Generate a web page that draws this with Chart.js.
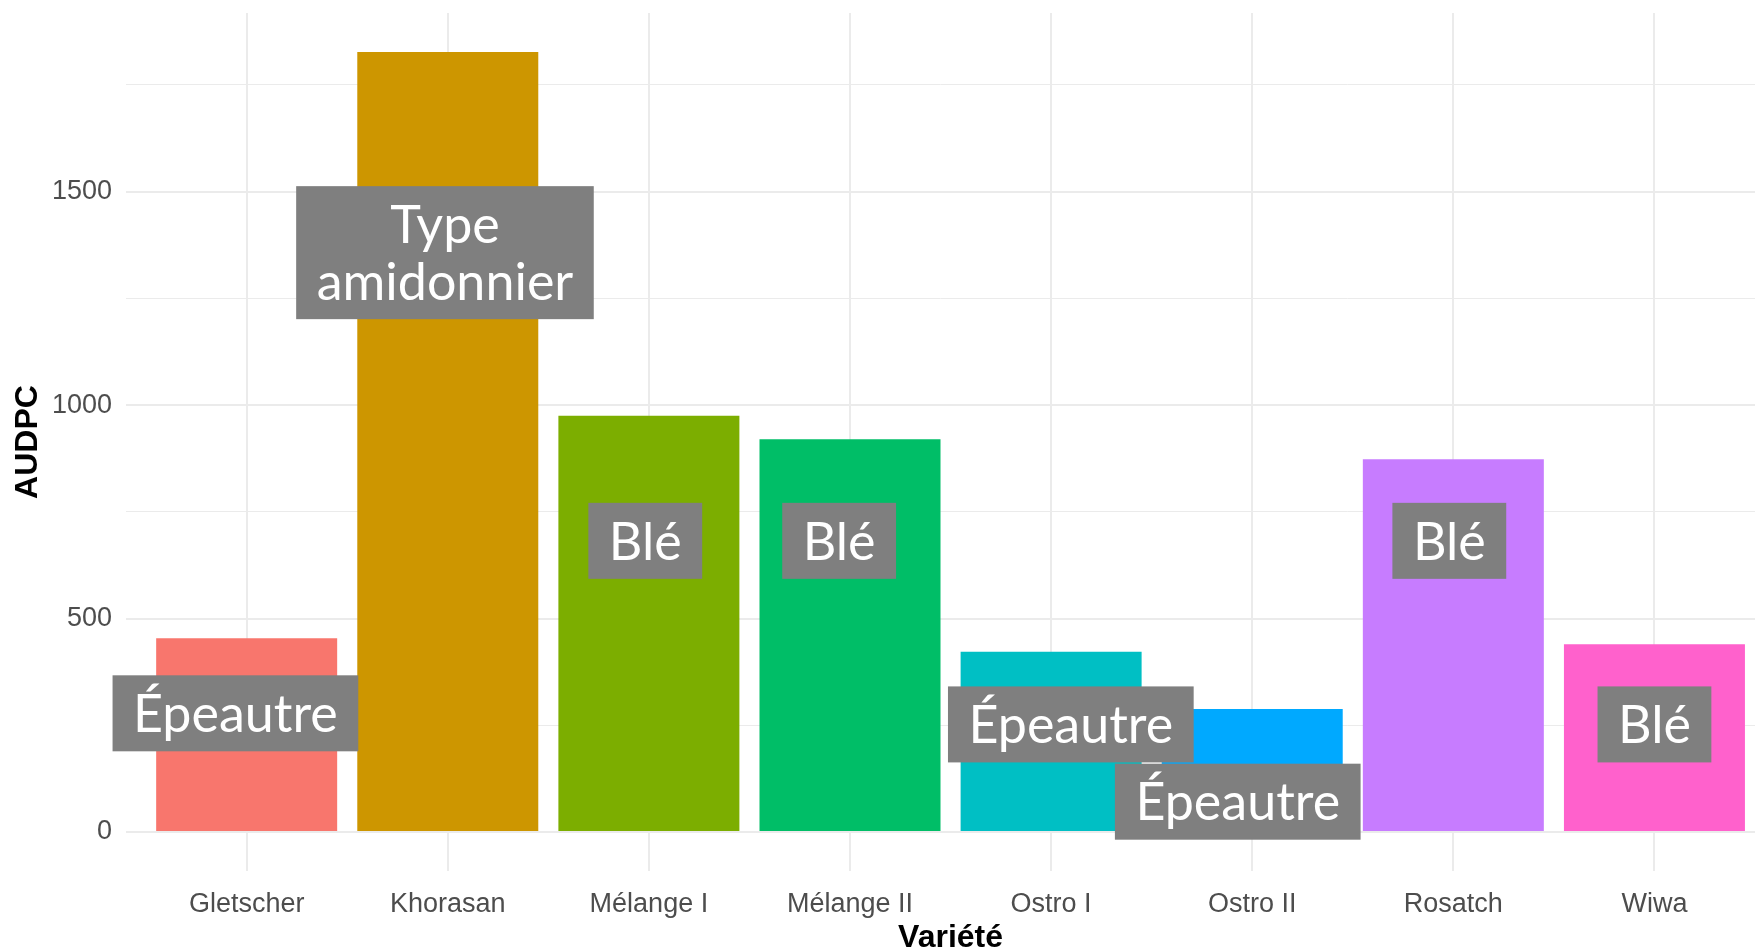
<!DOCTYPE html>
<html lang="fr">
<head>
<meta charset="utf-8">
<title>AUDPC par variété</title>
<script src="https://cdn.jsdelivr.net/npm/chart.js@4.4.1/dist/chart.umd.min.js"></script>
<style>
  html, body { margin: 0; padding: 0; background: #ffffff; overflow: hidden; }
  canvas { display: block; }
</style>
</head>
<body>
<canvas id="chartAudpc" width="1755" height="952"></canvas>
<script>
// Données
const varietes = ['Gletscher', 'Khorasan', 'Mélange I', 'Mélange II', 'Ostro I', 'Ostro II', 'Rosatch', 'Wiwa'];
const audpc = [454, 1827, 975, 920, 422, 288, 873, 440];
const couleurs = ['#F8766D', '#CD9600', '#7CAE00', '#00BE67', '#00BFC4', '#00A9FF', '#C77CFF', '#FF61CC'];
const yTicks = [0, 500, 1000, 1500];
const yMinorTicks = [250, 750, 1250, 1750];

// Étiquettes (position en unités de données)
const etiquettes = ['Épeautre', 'Type\namidonnier', 'Blé', 'Blé', 'Épeautre', 'Épeautre', 'Blé', 'Blé'];
const etiquetteX = [-0.056, 0.986, 1.982, 2.946, 4.098, 4.928, 5.98, 7.0];
const etiquetteY = [278, 1357, 682, 682, 252, 71, 682, 252];

// Expansion façon ggplot (5 %)
const yMax = Math.max(...audpc);
const yPad = yMax * 0.05;

const labelFont = '52px Lato';
const labelLine = 57;
const tickFont = { family: '"Liberation Sans", Arial, sans-serif', size: 27 };

// Plugin : étiquettes grises + titres d'axes
const etiquettesPlugin = {
    id: 'etiquettes',
    afterDatasetsDraw(chart) {
        const ctx = chart.ctx;
        const x = chart.scales.x;
        const y = chart.scales.y;
        ctx.save();
        ctx.font = labelFont;
        ctx.textAlign = 'center';
        ctx.textBaseline = 'middle';
        etiquettes.forEach(function (txt, i) {
            const lignes = txt.split('\n');
            const w = Math.max(...lignes.map(l => ctx.measureText(l).width)) + 41;
            const h = lignes.length * labelLine + 19;
            const cx = x.getPixelForValue(etiquetteX[i]);
            const cy = y.getPixelForValue(etiquetteY[i]);
            ctx.fillStyle = '#7F7F7F';
            ctx.fillRect(cx - w / 2, cy - h / 2, w, h);
            ctx.fillStyle = '#ffffff';
            lignes.forEach(function (l, k) {
                const ly = cy - (lignes.length - 1) * labelLine / 2 + k * labelLine;
                ctx.fillText(l, cx, ly + 2);
            });
        });

        // Titres des axes
        ctx.fillStyle = '#000000';
        ctx.font = 'bold 32px "Liberation Sans", Arial, sans-serif';
        ctx.textAlign = 'center';
        ctx.textBaseline = 'middle';
        ctx.fillText('Variété', x.getPixelForValue((varietes.length - 1) / 2), 938);
        ctx.translate(28, (chart.chartArea.top + chart.chartArea.bottom) / 2);
        ctx.rotate(-Math.PI / 2);
        ctx.fillText('AUDPC', 0, 0);
        ctx.restore();
    }
};

const ctx1 = document.getElementById('chartAudpc').getContext('2d');
const chartAudpc = new Chart(ctx1, {
    type: 'bar',
    data: {
        datasets: [{
            label: 'AUDPC',
            data: audpc.map((v, i) => ({ x: i, y: v })),
            backgroundColor: couleurs,
            borderWidth: 0,
            barPercentage: 0.9,
            categoryPercentage: 1.0
        }]
    },
    options: {
        responsive: false,
        animation: false,
        layout: { padding: { top: 13, right: 0, left: 0, bottom: 0 } },
        plugins: {
            legend: { display: false },
            tooltip: { enabled: false }
        },
        scales: {
            x: {
                type: 'linear',
                offset: false,
                min: -0.6,
                max: 7.5,
                afterBuildTicks: function (scale) {
                    scale.ticks = varietes.map((_, i) => ({ value: i }));
                },
                afterFit: function (scale) {
                    scale.height = 81;
                    scale.paddingLeft = 0;
                    scale.paddingRight = 0;
                },
                border: { display: false },
                grid: { color: '#EBEBEB', lineWidth: 2, drawTicks: false, offset: false },
                ticks: {
                    padding: 17,
                    color: '#4D4D4D',
                    font: tickFont,
                    maxRotation: 0,
                    autoSkip: false,
                    callback: function (v) { return varietes[v] !== undefined ? varietes[v] : ''; }
                }
            },
            y: {
                min: -yPad,
                max: yMax + yPad,
                afterBuildTicks: function (scale) {
                    scale.ticks = yTicks.concat(yMinorTicks).sort((a, b) => a - b).map(v => ({ value: v }));
                },
                afterFit: function (scale) {
                    scale.width = 126;
                    scale.paddingTop = 0;
                    scale.paddingBottom = 0;
                },
                border: { display: false },
                grid: {
                    color: '#EBEBEB',
                    lineWidth: function (c) { return yTicks.includes(c.tick.value) ? 2 : 1; },
                    drawTicks: false
                },
                ticks: {
                    padding: 14,
                    color: '#4D4D4D',
                    font: tickFont,
                    callback: function (v) { return yTicks.includes(v) ? String(v) : ''; }
                }
            }
        }
    },
    plugins: [etiquettesPlugin]
});
</script>
</body>
</html>
